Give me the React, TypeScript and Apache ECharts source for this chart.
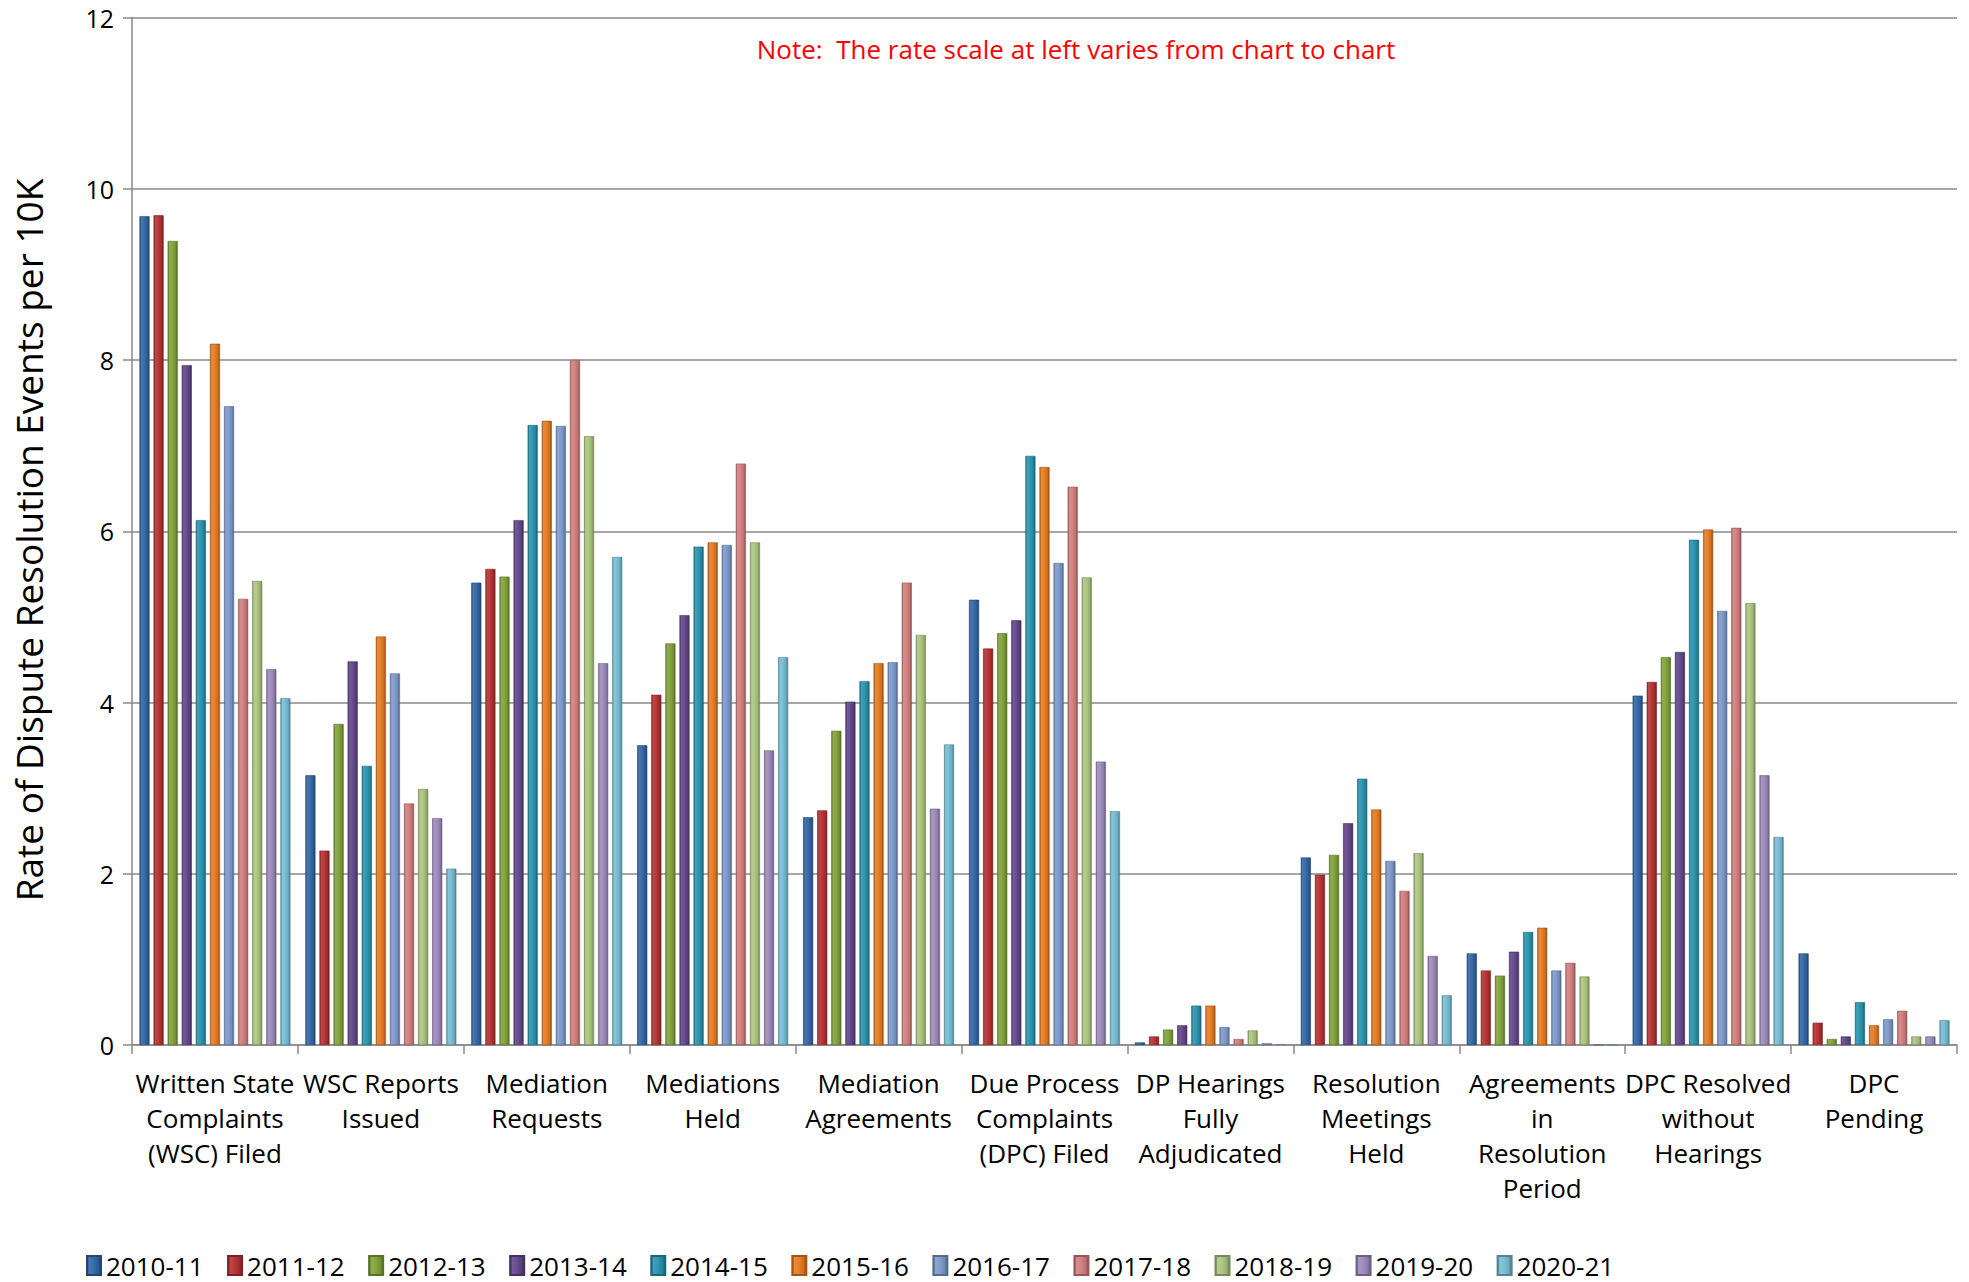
import React, { useEffect, useRef } from "react";
import * as echarts from "echarts";

const categories = [
  "Written State Complaints (WSC) Filed",
  "WSC Reports Issued",
  "Mediation Requests",
  "Mediations Held",
  "Mediation Agreements",
  "Due Process Complaints (DPC) Filed",
  "DP Hearings Fully Adjudicated",
  "Resolution Meetings Held",
  "Agreements in Resolution Period",
  "DPC Resolved without Hearings",
  "DPC Pending",
];

const categoryLabels = [
  "Written State\nComplaints\n(WSC) Filed",
  "WSC Reports\nIssued",
  "Mediation\nRequests",
  "Mediations\nHeld",
  "Mediation\nAgreements",
  "Due Process\nComplaints\n(DPC) Filed",
  "DP Hearings\nFully\nAdjudicated",
  "Resolution\nMeetings\nHeld",
  "Agreements\nin\nResolution\nPeriod",
  "DPC Resolved\nwithout\nHearings",
  "DPC\nPending",
];

const years = [
  "2010-11", "2011-12", "2012-13", "2013-14", "2014-15", "2015-16",
  "2016-17", "2017-18", "2018-19", "2019-20", "2020-21",
];

const v2010_11 = [9.68, 3.15, 5.40, 3.50, 2.66, 5.20, 0.03, 2.19, 1.07, 4.08, 1.07];
const v2011_12 = [9.69, 2.27, 5.56, 4.09, 2.74, 4.63, 0.10, 1.99, 0.87, 4.24, 0.26];
const v2012_13 = [9.39, 3.75, 5.47, 4.69, 3.67, 4.81, 0.18, 2.22, 0.81, 4.53, 0.07];
const v2013_14 = [7.94, 4.48, 6.13, 5.02, 4.01, 4.96, 0.23, 2.59, 1.09, 4.59, 0.10];
const v2014_15 = [6.13, 3.26, 7.24, 5.82, 4.25, 6.88, 0.46, 3.11, 1.32, 5.90, 0.50];
const v2015_16 = [8.19, 4.77, 7.29, 5.87, 4.46, 6.75, 0.46, 2.75, 1.37, 6.02, 0.23];
const v2016_17 = [7.46, 4.34, 7.23, 5.84, 4.47, 5.63, 0.21, 2.15, 0.87, 5.07, 0.30];
const v2017_18 = [5.21, 2.82, 8.00, 6.79, 5.40, 6.52, 0.07, 1.80, 0.96, 6.04, 0.40];
const v2018_19 = [5.42, 2.99, 7.11, 5.87, 4.79, 5.46, 0.17, 2.24, 0.80, 5.16, 0.10];
const v2019_20 = [4.39, 2.65, 4.46, 3.44, 2.76, 3.31, 0.02, 1.04, 0, 3.15, 0.10];
const v2020_21 = [4.05, 2.06, 5.70, 4.53, 3.51, 2.73, 0.01, 0.58, 0, 2.43, 0.29];

const seriesValues = [
  v2010_11, v2011_12, v2012_13, v2013_14, v2014_15, v2015_16,
  v2016_17, v2017_18, v2018_19, v2019_20, v2020_21,
];

const colors = [
  "#3165a6", "#b52f30", "#80a238", "#61458a", "#2793ae", "#e67a20",
  "#7c99cb", "#d27d7c", "#abc57e", "#9c89bb", "#75bdd4",
];

const yTicks = { min: 0, max: 12, interval: 2 };

const FONT = '"Open Sans", "Noto Sans", sans-serif';

function mix(hex: string, target: number, t: number) {
  const n = parseInt(hex.slice(1), 16);
  const r = (n >> 16) & 255, g = (n >> 8) & 255, b = n & 255;
  const f = (c: number) => Math.round(c + (target - c) * t);
  return `rgb(${f(r)},${f(g)},${f(b)})`;
}

function barFill(hex: string) {
  return {
    type: "linear", x: 0, y: 0, x2: 1, y2: 0,
    colorStops: [
      { offset: 0, color: mix(hex, 0, 0.3) },
      { offset: 0.15, color: mix(hex, 255, 0.12) },
      { offset: 0.45, color: mix(hex, 255, 0.05) },
      { offset: 0.8, color: mix(hex, 0, 0.1) },
      { offset: 1, color: mix(hex, 0, 0.35) },
    ],
  };
}

export default function App() {
  const ref = useRef<HTMLDivElement>(null);
  useEffect(() => {
    const chart = echarts.init(ref.current!, null, { renderer: "svg" });
    const option: any = {
      animation: false,
      backgroundColor: "#ffffff",
      textStyle: { fontFamily: FONT },
      grid: { left: 132, right: 12, top: 17.5, bottom: 237, containLabel: false },
      legend: {
        left: 86,
        top: 1252.5,
        padding: 0,
        icon: "rect",
        itemWidth: 14,
        itemHeight: 19,
        itemGap: 23.5,
        textStyle: { fontFamily: FONT, fontSize: 26, lineHeight: 26, color: "#000" },
        data: years,
      },
      graphic: [
        {
          type: "text",
          x: 1076,
          y: 49,
          style: {
            text: "Note:  The rate scale at left varies from chart to chart",
            fill: "#ff0000",
            font: `26px ${FONT}`,
            align: "center",
            verticalAlign: "middle",
          },
        },
        {
          type: "text",
          x: 28,
          y: 540,
          rotation: Math.PI / 2,
          style: {
            text: "Rate of Dispute Resolution Events per 10K",
            fill: "#000",
            font: `37px ${FONT}`,
            align: "center",
            verticalAlign: "middle",
          },
        },
      ],
      xAxis: {
        type: "category",
        data: categories,
        axisLine: { lineStyle: { color: "#8a8a8a", width: 1.5 } },
        axisTick: { show: true, length: 9, lineStyle: { color: "#8a8a8a", width: 1.5 } },
        axisLabel: {
          interval: 0,
          margin: 20,
          fontFamily: FONT,
          fontSize: 26,
          lineHeight: 35,
          color: "#000",
          formatter: (_v: string, i: number) => categoryLabels[i],
        },
      },
      yAxis: {
        type: "value",
        min: yTicks.min,
        max: yTicks.max,
        interval: yTicks.interval,
        axisLine: { show: true, lineStyle: { color: "#8a8a8a", width: 1.5 } },
        axisTick: { show: true, length: 9, lineStyle: { color: "#8a8a8a", width: 1.5 } },
        splitLine: { show: true, lineStyle: { color: "#8a8a8a", width: 1.5 } },
        axisLabel: { margin: 18, fontFamily: FONT, fontSize: 25, color: "#000" },
      },
      series: years.map((y, i) => ({
        name: y,
        type: "bar",
        data: seriesValues[i],
        barGap: "40%",
        barCategoryGap: "9%",
        itemStyle: {
          color: barFill(colors[i]),
          borderColor: mix(colors[i], 0, 0.3),
          borderWidth: 0.6,
        },
      })),
    };
    chart.setOption(option);
    return () => chart.dispose();
  }, []);
  return (
    <div
      ref={ref}
      style={{ position: "fixed", left: 0, top: 0, width: 1969, height: 1282 }}
    />
  );
}
